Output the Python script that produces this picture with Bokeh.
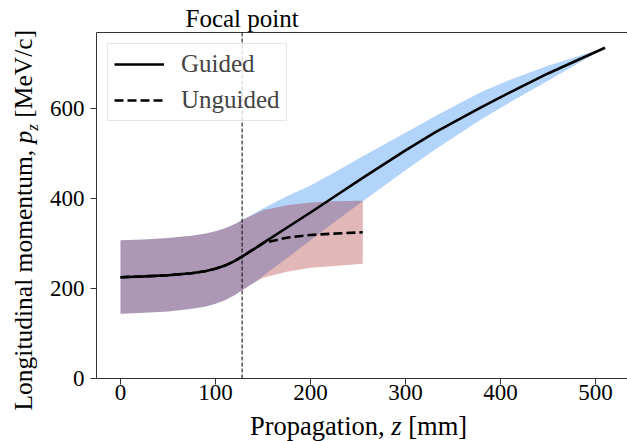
import math
from bokeh.plotting import figure
from bokeh.layouts import row, column
from bokeh.models import Range1d, LinearAxis, FixedTicker, Span, Label, Legend, LegendItem
from bokeh.embed import file_html
from bokeh.resources import INLINE

# ---- data ----
z_guided = [0, 25, 50, 75, 90, 100, 110, 120, 128, 140, 150, 175, 200, 225, 255, 300, 332, 379, 410, 450, 510]
pz_guided = [225, 227, 229.5, 234, 239, 244, 251, 261, 271, 287, 301, 335, 369, 404, 446, 507, 548, 602, 636, 678, 735]
guided_upper = [307, 309, 312, 317, 322, 327, 334, 343, 352, 366, 378, 405, 429, 458, 494, 546, 584, 636, 664, 695, 735]
guided_lower = [144, 146, 149, 155, 160, 166, 174, 185, 196, 212, 228, 267, 307, 347, 394, 463, 510, 575, 614, 662, 735]

z_unguided = [0, 25, 50, 75, 90, 100, 110, 120, 128, 140, 150, 175, 200, 225, 255]
pz_unguided = [225, 227, 229.5, 234, 239, 244, 251, 261, 271, 287, 301, 313, 319, 322, 325]
unguided_upper = [307, 309, 312, 317, 322, 327, 334, 343, 352, 364, 374, 385, 391, 394, 395]
unguided_lower = [144, 146, 149, 155, 160, 166, 174, 185, 196, 212, 224, 237, 246, 250, 255]

focal_z = 128
x_ticks = [0, 100, 200, 300, 400, 500]
y_ticks = [0, 200, 400, 600]

SERIF = "Liberation Serif"
AX = "#333333"

x_range = Range1d(-25.26, 533.68)
y_range = Range1d(0, 769)

# ---- main plot ----
p = figure(width=583, height=378, output_backend="svg", toolbar_location=None,
           x_range=x_range, y_range=y_range,
           min_border_left=52, min_border_right=0, min_border_top=0, min_border_bottom=32)
p.outline_line_color = None
p.grid.visible = False

for ax in (p.xaxis[0], p.yaxis[0]):
    ax.axis_line_color = AX
    ax.axis_line_width = 1
    ax.major_tick_line_color = AX
    ax.major_tick_in = 0
    ax.major_tick_out = 6
    ax.minor_tick_line_color = None
    ax.major_label_text_font = SERIF
    ax.major_label_text_font_size = "23px"
    ax.major_label_text_color = "black"
p.xaxis[0].major_label_standoff = 0
p.yaxis[0].major_label_standoff = 6
p.xaxis[0].ticker = FixedTicker(ticks=x_ticks)
p.yaxis[0].ticker = FixedTicker(ticks=y_ticks)

top_axis = LinearAxis(ticker=FixedTicker(ticks=[]), major_tick_out=0, major_tick_in=0,
                      minor_tick_out=0, minor_tick_in=0, major_label_text_font_size="0px",
                      axis_line_color=AX, axis_line_width=1, major_label_standoff=0)
p.add_layout(top_axis, "above")

p.varea(x=z_guided, y1=guided_lower, y2=guided_upper, fill_color="#006eee", fill_alpha=0.3)
p.varea(x=z_unguided, y1=unguided_lower, y2=unguided_upper, fill_color="#a00f14", fill_alpha=0.3)

r_g = p.line(z_guided, pz_guided, line_color="black", line_width=2.6)
r_u = p.line(z_unguided, pz_unguided, line_color="black", line_width=2.6, line_dash="9 4")

p.add_layout(Span(location=focal_z, dimension="height", line_color="black",
                  line_width=1, line_dash="4 2"))

legend = Legend(items=[LegendItem(label="Guided", renderers=[r_g]),
                       LegendItem(label="Unguided", renderers=[r_u])],
                location="top_left")
legend.margin = 11
legend.padding = 6
legend.spacing = 8
legend.label_height = 28
legend.glyph_height = 28
legend.glyph_width = 50
legend.label_standoff = 17
legend.label_text_font = SERIF
legend.label_text_font_size = "25px"
legend.border_line_color = "#cccccc"
legend.border_line_width = 1
legend.background_fill_color = "white"
legend.background_fill_alpha = 0.8
p.add_layout(legend)


def lab(f, x, y, t, italic=False, size="25px", angle=0.0, x_units="screen", align="left"):
    f.add_layout(Label(x=x, y=y, x_units=x_units, y_units="screen", text=t,
                       text_font=SERIF, text_font_size=size,
                       text_font_style="italic" if italic else "normal",
                       text_align=align, text_baseline="middle",
                       text_color="black", angle=angle))


def strip(width, height, left=0, xr=None):
    kw = {}
    if xr is not None:
        kw["x_range"] = xr
    f = figure(width=width, height=height, output_backend="svg", toolbar_location=None,
               x_axis_type=None, y_axis_type=None, min_border_left=left,
               min_border_right=0, min_border_top=0, min_border_bottom=0, **kw)
    f.outline_line_color = None
    return f


# ---- strip above the plot: "Focal point" ----
ftop = strip(583, 32, left=52, xr=x_range)
lab(ftop, focal_z, 13.8, "Focal point", x_units="data", align="center")

# ---- strip below the plot: x-axis title ----
fx = strip(583, 31, left=52)
XS = "26.5px"
lab(fx, 153.5, 15.5, "Propagation,", size=XS)
lab(fx, 294.8, 15.5, "z", italic=True, size=XS)
lab(fx, 311.7, 15.5, "[mm]", size=XS)

# ---- strip left of the plot: y-axis title ----
fy = strip(44, 441)
a = math.pi / 2
YS = "25.5px"
lab(fy, 23.4, 31, "Longitudinal momentum,", size=YS, angle=a)
lab(fy, 23.4, 298.1, "p", italic=True, size=YS, angle=a)
lab(fy, 32.0, 310.85, "z", italic=True, size="17px", angle=a)
lab(fy, 23.4, 323.85, "[MeV/c]", size=YS, angle=a)

layout = row(fy, column(ftop, p, fx, spacing=0), spacing=0)

open("out.html", "w").write(file_html(layout, INLINE))
